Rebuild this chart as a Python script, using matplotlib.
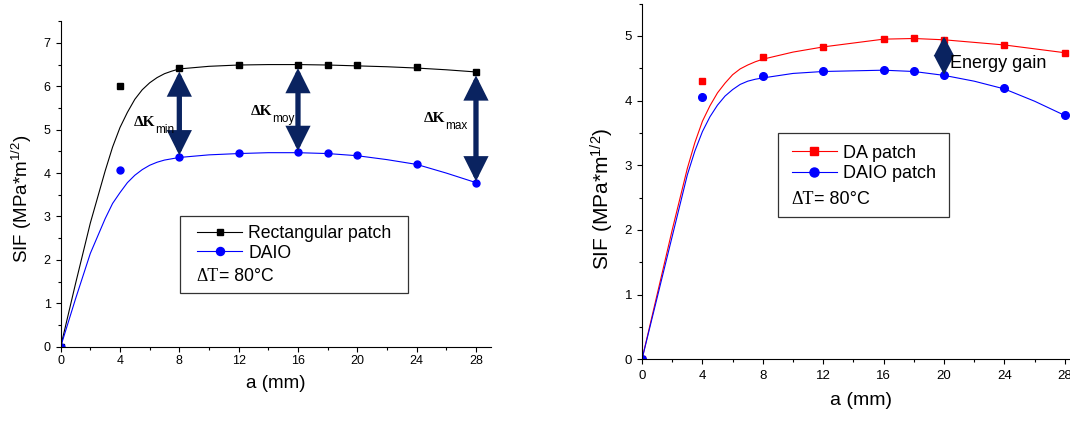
import numpy as np
import matplotlib
matplotlib.use("Agg")
import matplotlib.pyplot as plt
from matplotlib.ticker import MultipleLocator
from matplotlib.patches import Rectangle

plt.rcParams.update({'font.family': 'Liberation Sans',
                     'mathtext.fontset': 'custom',
                     'mathtext.rm': 'Liberation Sans',
                     'mathtext.it': 'Liberation Sans:italic'})

# measured points
a = [0, 4, 8, 12, 16, 18, 20, 24, 28]
rect_patch = [0, 6.0, 6.42, 6.5, 6.5, 6.5, 6.48, 6.44, 6.33]
daio_left = [0, 4.07, 4.38, 4.46, 4.48, 4.46, 4.41, 4.2, 3.78]
da_patch = [0, 4.30, 4.67, 4.83, 4.95, 4.97, 4.94, 4.86, 4.74]
daio_right = [0, 4.06, 4.38, 4.46, 4.47, 4.45, 4.39, 4.19, 3.77]

# fitted curves
a_fit = [0, 1, 2, 3, 3.5, 4, 4.5, 5, 5.5, 6, 6.5, 7, 7.5, 8, 10, 12, 14, 16, 18, 20, 22, 24, 26, 28]
rect_fit = [0, 1.45, 2.85, 4.05, 4.6, 5.05, 5.4, 5.7, 5.92, 6.08, 6.2, 6.29, 6.35, 6.4,
            6.46, 6.49, 6.5, 6.5, 6.49, 6.47, 6.45, 6.42, 6.38, 6.33]
daio_left_fit = [0, 1.1, 2.15, 2.95, 3.3, 3.55, 3.78, 3.95, 4.08, 4.18, 4.25, 4.3, 4.33, 4.36,
                 4.42, 4.45, 4.47, 4.47, 4.45, 4.4, 4.31, 4.2, 4.0, 3.78]
da_fit = [0, 1.0, 2.0, 2.95, 3.35, 3.68, 3.92, 4.12, 4.27, 4.4, 4.49, 4.55, 4.6, 4.64,
          4.75, 4.83, 4.89, 4.95, 4.96, 4.94, 4.9, 4.86, 4.8, 4.74]
daio_right_fit = [0, 0.95, 1.9, 2.85, 3.22, 3.52, 3.75, 3.93, 4.07, 4.17, 4.25, 4.3, 4.33, 4.35,
                  4.42, 4.45, 4.46, 4.47, 4.45, 4.39, 4.3, 4.18, 3.99, 3.77]

# gap arrows (index into a) and their labels
dk_idx = [2, 4, 8]
dk_subs = ['min', 'moy', 'max']
dk_text_pos = [(4.9, 5.09), (12.81, 5.34), (24.45, 5.18)]
gain_idx = 6

navy = '#0a2360'
fig = plt.figure(figsize=(10.7, 4.21), dpi=100)
axL = fig.add_axes([0.0567, 0.1765, 0.402, 0.7732])
axR = fig.add_axes([0.6, 0.1466, 0.4093, 0.8449])


def style(ax, ymax, lsize, xpad):
    ax.set_xlim(0, 29)
    ax.set_ylim(0, ymax)
    ax.spines['top'].set_visible(False)
    ax.spines['right'].set_visible(False)
    ax.xaxis.set_major_locator(MultipleLocator(4))
    ax.xaxis.set_minor_locator(MultipleLocator(2))
    ax.yaxis.set_major_locator(MultipleLocator(1))
    ax.yaxis.set_minor_locator(MultipleLocator(0.5))
    ax.tick_params(which='major', length=3.6, width=0.8, labelsize=lsize, direction='out')
    ax.tick_params(which='minor', length=2.2, width=0.8, direction='out')
    ax.tick_params(axis='x', pad=xpad)


def ktext(ax, x, y, main, sub, size, subsize, fam, weight):
    t = ax.text(x, y, main, fontsize=size, fontfamily=fam, fontweight=weight, va='baseline')
    ax.annotate(sub, xy=(1, 0), xycoords=t, xytext=(0, -2.7), textcoords='offset points',
                fontsize=subsize, va='baseline', ha='left')


def dt_text(ax, x, y, size):
    t = ax.text(x, y, 'ΔT', transform=ax.transAxes, fontsize=size,
                fontfamily='Liberation Serif', va='center')
    ax.annotate('= 80°C', xy=(1, 0.5), xycoords=t, fontsize=size, va='center', ha='left')


arrow_big = dict(arrowstyle='<|-|>,head_length=1.2,head_width=0.6', color=navy, lw=3.8,
                 mutation_scale=10, shrinkA=0, shrinkB=0, joinstyle='miter')
arrow_small = dict(arrowstyle='<|-|>,head_length=0.95,head_width=0.5', color=navy, lw=2.9,
                   mutation_scale=10, shrinkA=0, shrinkB=0, joinstyle='miter')

# ---- left panel
style(axL, 7.5, 9, 2.2)
axL.plot(a_fit, rect_fit, color='black', lw=0.8)
axL.plot(a_fit, daio_left_fit, color='blue', lw=0.8)
axL.plot(a, rect_patch, 's', color='black', ms=4.5)
axL.plot(a, daio_left, 'o', color='blue', ms=5)
hL = [plt.Line2D([], [], color='black', lw=0.8, marker='s', ms=5),
      plt.Line2D([], [], color='blue', lw=0.8, marker='o', ms=5.8)]
axL.legend(hL, ['Rectangular patch', 'DAIO'], loc='center left', bbox_to_anchor=(0.316, 0.3175),
           frameon=False, fontsize=12.7, borderpad=0, borderaxespad=0, handlelength=2.6,
           handletextpad=0.34, labelspacing=0.15)
axL.add_patch(Rectangle((0.277, 0.165), 0.5305, 0.235, transform=axL.transAxes,
                        fill=False, ec='#333333', lw=0.9))
dt_text(axL, 0.316, 0.215, 12.7)
for i, s, (tx, ty) in zip(dk_idx, dk_subs, dk_text_pos):
    axL.annotate('', xy=(a[i], daio_left[i] + 0.03), xytext=(a[i], rect_patch[i] - 0.08),
                 arrowprops=arrow_big)
    ktext(axL, tx, ty, 'ΔK', s, 11, 8.5, 'Liberation Serif', 'bold')
axL.set_xlabel('a (mm)', fontsize=13.5, labelpad=6)
axL.set_ylabel('SIF (MPa*m$^{1/2}$)', fontsize=13.5)
axL.yaxis.set_label_coords(-0.062, 0.454)

# ---- right panel
style(axR, 5.5, 9.5, 4)
axR.plot(a_fit, da_fit, color='red', lw=0.8)
axR.plot(a_fit, daio_right_fit, color='blue', lw=0.8)
axR.plot(a, da_patch, 's', color='red', ms=5)
axR.plot(a, daio_right, 'o', color='blue', ms=5.5)
hR = [plt.Line2D([], [], color='red', lw=0.8, marker='s', ms=6),
      plt.Line2D([], [], color='blue', lw=0.8, marker='o', ms=6.5)]
axR.legend(hR, ['DA patch', 'DAIO patch'], loc='center left', bbox_to_anchor=(0.3416, 0.551),
           frameon=False, fontsize=13, borderpad=0, borderaxespad=0, handlelength=2.53,
           handletextpad=0.32, labelspacing=0.17)
axR.add_patch(Rectangle((0.3114, 0.399), 0.3893, 0.236, transform=axR.transAxes,
                        fill=False, ec='#333333', lw=0.9))
dt_text(axR, 0.3416, 0.448, 13)
axR.annotate('', xy=(a[gain_idx], daio_right[gain_idx] + 0.01),
             xytext=(a[gain_idx], da_patch[gain_idx] + 0.05), arrowprops=arrow_small)
axR.text(20.4, 4.5, 'Energy gain', fontsize=13, va='baseline')
axR.set_xlabel('a (mm)', fontsize=14, labelpad=7)
axR.set_ylabel('SIF (MPa*m$^{1/2}$)', fontsize=15)
axR.yaxis.set_label_coords(-0.060, 0.45)

fig.savefig('out.png', dpi=100)
